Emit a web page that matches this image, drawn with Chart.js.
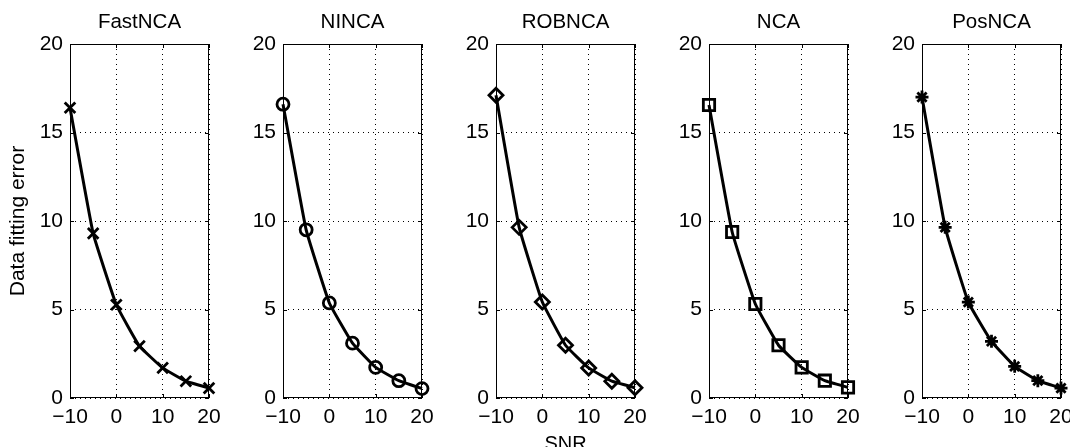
<!DOCTYPE html>
<html>
<head>
<meta charset="utf-8">
<script src="https://cdn.jsdelivr.net/npm/chart.js@4.4.1/dist/chart.umd.min.js"></script>
<style>
  html, body { margin: 0; padding: 0; background: #fff; width: 1070px; height: 447px; overflow: hidden; }
  #wrap { position: relative; width: 1070px; height: 447px; overflow: hidden; }
  canvas { position: absolute; top: 0; }
</style>
</head>
<body>
<div id="wrap"></div>
<script>
// Valeurs
const snr = [-10, -5, 0, 5, 10, 15, 20];
const fastNCA = [16.4, 9.3, 5.27, 2.93, 1.7, 0.95, 0.56];
const ninca = [16.6, 9.5, 5.37, 3.1, 1.73, 0.98, 0.53];
const robnca = [17.1, 9.64, 5.42, 2.98, 1.7, 0.95, 0.58];
const nca = [16.55, 9.38, 5.31, 2.98, 1.73, 0.98, 0.6];
const posnca = [17.0, 9.64, 5.42, 3.2, 1.79, 0.98, 0.56];
const methods = ['FastNCA', 'NINCA', 'ROBNCA', 'NCA', 'PosNCA'];
const series = [fastNCA, ninca, robnca, nca, posnca];
const xTicks = [-10, 0, 10, 20];
const yTicks = [0, 5, 10, 15, 20];

// style des marqueurs par panneau
const markers = [
  { style: 'crossRot', radius: 7.5 },
  { style: 'circle', radius: 6 },
  { style: 'rectRot', radius: 7 },
  { style: 'rect', radius: 8 },
  { style: 'star', radius: 6.5 }
];

const FONT = 'Liberation Sans, Arial, Helvetica, sans-serif';
const PANEL_STEP = 213;

// cadre + petites graduations vers l'intérieur (style MATLAB)
const boxPlugin = {
  id: 'box',
  beforeDatasetsDraw(chart) {
    const { ctx, chartArea: a, scales } = chart;
    ctx.save();
    ctx.setLineDash([]);
    ctx.strokeStyle = '#000';
    ctx.lineWidth = 1;
    ctx.strokeRect(a.left + 0.5, a.top + 0.5, a.right - a.left - 1, a.bottom - a.top - 1);
    ctx.beginPath();
    xTicks.forEach(v => {
      const px = Math.round(scales.x.getPixelForValue(v)) + 0.5;
      ctx.moveTo(px, a.bottom); ctx.lineTo(px, a.bottom - 4);
      ctx.moveTo(px, a.top); ctx.lineTo(px, a.top + 4);
    });
    yTicks.forEach(v => {
      const py = Math.round(scales.y.getPixelForValue(v)) + 0.5;
      ctx.moveTo(a.left, py); ctx.lineTo(a.left + 4, py);
      ctx.moveTo(a.right, py); ctx.lineTo(a.right - 4, py);
    });
    ctx.stroke();
    ctx.restore();
  }
};

function creerPanneau(i) {
  const canvas = document.createElement('canvas');
  canvas.width = 236;
  canvas.height = 470;
  canvas.style.left = (PANEL_STEP * i) + 'px';
  document.getElementById('wrap').appendChild(canvas);

  const m = markers[i];
  const points = snr.map((x, k) => ({ x: x, y: series[i][k] }));

  new Chart(canvas.getContext('2d'), {
    type: 'line',
    data: {
      datasets: [{
        data: points,
        borderColor: '#000',
        borderWidth: 3,
        tension: 0.1,
        pointStyle: m.style,
        pointRadius: m.radius,
        pointHoverRadius: m.radius,
        pointBorderWidth: 2.8,
        pointBorderColor: '#000',
        pointBackgroundColor: 'rgba(0,0,0,0)',
        clip: false
      }]
    },
    plugins: [boxPlugin],
    options: {
      responsive: false,
      animation: false,
      devicePixelRatio: 1,
      layout: { padding: { left: 0, right: 27, top: 0, bottom: 0 } },
      plugins: {
        legend: { display: false },
        tooltip: { enabled: false },
        title: {
          display: true,
          text: methods[i],
          fullSize: false,
          color: '#000',
          font: { family: FONT, size: 20.5, weight: 'normal' },
          padding: { top: 10, bottom: 9.4 }
        }
      },
      scales: {
        x: {
          type: 'linear',
          min: -10,
          max: 20,
          afterBuildTicks: s => { s.ticks = xTicks.map(v => ({ value: v })); },
          afterFit: s => { s.height = 72; },
          ticks: {
            color: '#000',
            font: { family: FONT, size: 21 },
            padding: 7,
            maxRotation: 0,
            callback: v => String(v).replace('-', '\u2212')
          },
          grid: { color: '#000', lineWidth: 1, drawTicks: false },
          border: { display: false, dash: [1, 4] },
          title: {
            display: i === 2,
            text: 'SNR',
            color: '#000',
            font: { family: FONT, size: 20 },
            padding: { top: 0, bottom: 14 }
          }
        },
        y: {
          min: 0,
          max: 20,
          afterBuildTicks: s => { s.ticks = yTicks.map(v => ({ value: v })); },
          afterFit: s => { s.width = 70; },
          ticks: {
            color: '#000',
            font: { family: FONT, size: 21 },
            padding: 7
          },
          grid: { color: '#000', lineWidth: 1, drawTicks: false },
          border: { display: false, dash: [1, 4] },
          title: {
            display: i === 0,
            text: 'Data fitting error',
            color: '#000',
            font: { family: FONT, size: 21 },
            padding: { top: 6, bottom: 0 }
          }
        }
      }
    }
  });
}

methods.forEach((nom, i) => creerPanneau(i));
</script>
</body>
</html>
